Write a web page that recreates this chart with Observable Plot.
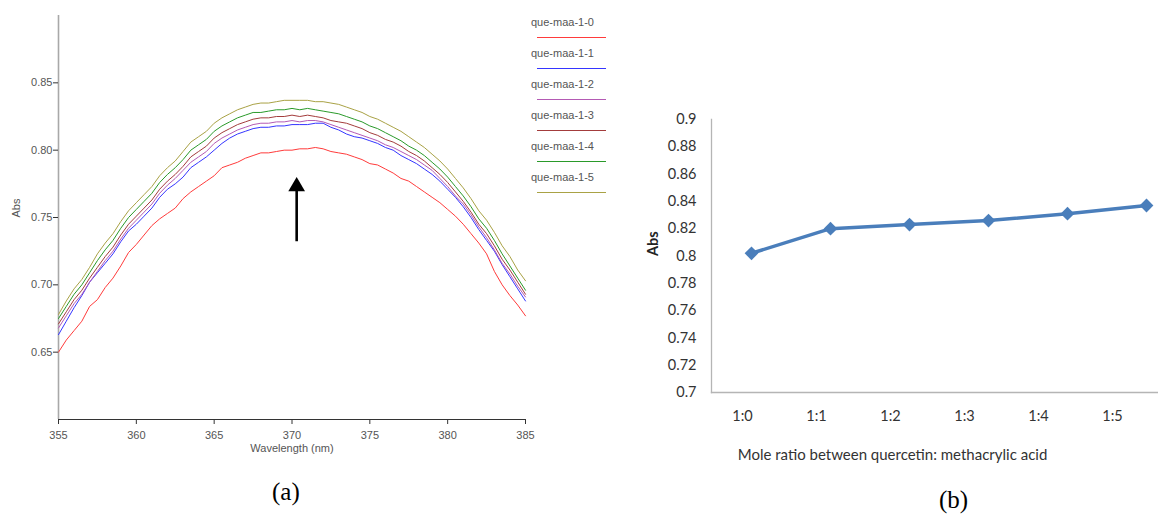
<!DOCTYPE html>
<html>
<head>
<meta charset="utf-8">
<script src="https://cdn.jsdelivr.net/npm/d3@7"></script>
<script src="https://cdn.jsdelivr.net/npm/@observablehq/plot@0.6"></script>
<style>
  html, body { margin: 0; padding: 0; background: white; }
  #wrap { position: relative; width: 1158px; height: 518px; overflow: hidden; background: white; }
  #wrap > svg { position: absolute; top: 0; max-width: none !important; background: transparent !important; overflow: visible; }
  .leg { position: absolute; font-family: "Liberation Sans", Arial, sans-serif; font-size: 11px; color: #555; line-height: 14px; }
  .cap { position: absolute; font-family: "Liberation Serif", "Times New Roman", serif; font-size: 25px; color: #000; line-height: 30px; }
</style>
</head>
<body>
<div id="wrap"></div>
<script>
// ---------- Panel (a): UV spectra ----------
const wavelengths = [355,355.5,356,356.5,357,357.5,358,358.5,359,359.5,360,360.5,361,361.5,362,362.5,363,363.5,364,364.5,365,365.5,366,366.5,367,367.5,368,368.5,369,369.5,370,370.5,371,371.5,372,372.5,373,373.5,374,374.5,375,375.5,376,376.5,377,377.5,378,378.5,379,379.5,380,380.5,381,381.5,382,382.5,383,383.5,384,384.5,385];

const seriesNames = ["que-maa-1-0","que-maa-1-1","que-maa-1-2","que-maa-1-3","que-maa-1-4","que-maa-1-5"];
const seriesColors = ["#ff3b3b","#3535ff","#b45ab4","#a33c3c","#2a9a2a","#a9a245"];

const abs10 = [0.650,0.659,0.666,0.673,0.684,0.689,0.698,0.705,0.714,0.724,0.730,0.737,0.744,0.749,0.753,0.757,0.764,0.769,0.773,0.777,0.781,0.787,0.789,0.791,0.794,0.796,0.798,0.798,0.799,0.800,0.800,0.801,0.801,0.802,0.801,0.799,0.798,0.797,0.795,0.793,0.790,0.789,0.786,0.783,0.779,0.777,0.773,0.769,0.765,0.761,0.756,0.751,0.745,0.738,0.731,0.723,0.710,0.700,0.692,0.685,0.677];
const abs11 = [0.663,0.673,0.683,0.692,0.702,0.709,0.716,0.723,0.732,0.740,0.745,0.751,0.757,0.765,0.771,0.775,0.780,0.787,0.791,0.795,0.800,0.805,0.809,0.812,0.814,0.816,0.817,0.817,0.818,0.818,0.819,0.819,0.819,0.820,0.820,0.817,0.815,0.812,0.810,0.809,0.807,0.805,0.802,0.800,0.796,0.793,0.790,0.786,0.782,0.777,0.771,0.765,0.758,0.750,0.741,0.733,0.725,0.715,0.706,0.697,0.688];
const abs12 = [0.668,0.677,0.686,0.693,0.702,0.710,0.718,0.725,0.734,0.742,0.748,0.754,0.760,0.768,0.774,0.779,0.785,0.791,0.795,0.799,0.805,0.809,0.812,0.815,0.817,0.819,0.820,0.820,0.821,0.821,0.822,0.821,0.822,0.822,0.821,0.819,0.817,0.815,0.813,0.811,0.809,0.807,0.804,0.802,0.799,0.796,0.793,0.789,0.785,0.779,0.773,0.766,0.760,0.752,0.743,0.735,0.726,0.716,0.708,0.699,0.691];
const abs13 = [0.671,0.680,0.689,0.696,0.705,0.713,0.721,0.728,0.737,0.745,0.751,0.757,0.763,0.771,0.777,0.782,0.788,0.795,0.799,0.803,0.809,0.813,0.816,0.819,0.821,0.823,0.824,0.824,0.825,0.825,0.826,0.825,0.826,0.825,0.824,0.822,0.821,0.820,0.818,0.816,0.813,0.811,0.808,0.806,0.803,0.799,0.796,0.792,0.787,0.782,0.776,0.769,0.762,0.754,0.745,0.738,0.729,0.719,0.711,0.702,0.693];
const abs14 = [0.675,0.684,0.693,0.700,0.709,0.718,0.726,0.733,0.742,0.750,0.756,0.762,0.768,0.776,0.782,0.787,0.793,0.800,0.804,0.808,0.814,0.818,0.821,0.824,0.826,0.828,0.828,0.829,0.830,0.830,0.831,0.830,0.831,0.830,0.829,0.828,0.827,0.825,0.823,0.821,0.818,0.816,0.813,0.810,0.807,0.803,0.800,0.796,0.791,0.786,0.780,0.773,0.766,0.758,0.749,0.742,0.733,0.723,0.714,0.705,0.696];
const abs15 = [0.678,0.688,0.697,0.704,0.713,0.723,0.731,0.738,0.747,0.755,0.761,0.767,0.773,0.781,0.787,0.792,0.799,0.806,0.810,0.814,0.820,0.824,0.827,0.830,0.832,0.834,0.835,0.835,0.836,0.837,0.837,0.837,0.837,0.836,0.836,0.835,0.834,0.832,0.830,0.828,0.825,0.823,0.820,0.817,0.814,0.810,0.806,0.802,0.797,0.792,0.786,0.779,0.772,0.764,0.755,0.748,0.739,0.729,0.721,0.711,0.703];

const xTicksA = [355,360,365,370,375,380,385];
const yTicksA = [0.65,0.70,0.75,0.80,0.85];
const arrowX = [370.3];
const arrowShaft = [0.732, 0.770];
const arrowHead = [0.773];

// ---------- Panel (b): absorbance vs mole ratio ----------
const ratios = ["1:0","1:1","1:2","1:3","1:4","1:5"];
const ratioAbs = [0.802,0.820,0.823,0.826,0.831,0.837];
const yTicksB = [0.7,0.72,0.74,0.76,0.78,0.8,0.82,0.84,0.86,0.88,0.9];

const seriesArrays = [abs10, abs11, abs12, abs13, abs14, abs15];
const rowsA = [];
seriesArrays.forEach((arr, s) => arr.forEach((v, i) => rowsA.push({series: seriesNames[s], wl: wavelengths[i], abs: v})));
const rowsB = ratios.map((r, i) => ({ratio: r, abs: ratioAbs[i]}));

const wrap = document.getElementById("wrap");

const plotA = Plot.plot({
  width: 620, height: 470,
  marginLeft: 58, marginRight: 95, marginTop: 15, marginBottom: 51,
  style: {fontFamily: "'Liberation Sans', Arial, sans-serif", fontSize: "11px", color: "#555", background: "transparent"},
  x: {domain: [355, 385]},
  y: {domain: [0.6, 0.9]},
  color: {domain: seriesNames, range: seriesColors},
  marks: [
    Plot.ruleX([355], {stroke: "#a8a8a8", strokeWidth: 1.6}),
    Plot.ruleY([0.6], {stroke: "#333", strokeWidth: 1}),
    Plot.axisX({ticks: xTicksA, tickSize: 5, tickPadding: 7, tickFormat: d => String(d), label: null, stroke: "#333"}),
    Plot.axisY({ticks: yTicksA, tickSize: 5, tickPadding: 1, tickFormat: d => d.toFixed(2), label: null, stroke: "#333"}),
    Plot.line(rowsA, {x: "wl", y: "abs", z: "series", stroke: "series", strokeWidth: 1}),
    Plot.ruleX(arrowX, {x: d => d, y1: arrowShaft[0], y2: arrowShaft[1], stroke: "#000", strokeWidth: 2.6}),
    Plot.dot(arrowX, {x: d => d, y: arrowHead[0], symbol: "triangle", r: 6.2, fill: "#000", stroke: "none"}),
    Plot.text(["Wavelength (nm)"], {text: d => d, frameAnchor: "bottom", dy: 32, fill: "#555"}),
    Plot.text(["Abs"], {text: d => d, frameAnchor: "left", dx: -42, rotate: -90, fill: "#555"})
  ]
});
plotA.style.left = "0px";
wrap.appendChild(plotA);

// legend for (a): text in HTML, swatch lines in a small SVG
const legSvg = d3.create("svg")
  .attr("width", 80).attr("height", 200)
  .style("position", "absolute").style("left", "530px").style("top", "0px");
seriesNames.forEach((name, i) => {
  const t = document.createElement("div");
  t.className = "leg";
  t.textContent = name;
  t.style.left = "531px";
  t.style.top = (15 + i * 31) + "px";
  wrap.appendChild(t);
  legSvg.append("line")
    .attr("x1", 7).attr("x2", 76)
    .attr("y1", 37.5 + i * 31).attr("y2", 37.5 + i * 31)
    .attr("stroke", seriesColors[i]).attr("stroke-width", 1.2);
});
wrap.appendChild(legSvg.node());

const plotB = Plot.plot({
  width: 600, height: 518,
  marginLeft: 111, marginRight: 15, marginTop: 119, marginBottom: 126,
  style: {fontFamily: "Lato, 'Open Sans', sans-serif", fontSize: "14.5px", color: "#333", background: "transparent"},
  x: {type: "point", domain: ratios, padding: 0.5, axis: null},
  y: {domain: [0.7, 0.9]},
  marks: [
    Plot.frame({anchor: "left", stroke: "#b5b5b5", strokeWidth: 1.3}),
    Plot.frame({anchor: "bottom", stroke: "#b5b5b5", strokeWidth: 1.3}),
    Plot.axisY({ticks: yTicksB, tickSize: 0, tickPadding: 15, tickFormat: d => String(+d.toFixed(2)), label: null}),
    Plot.line(rowsB, {x: "ratio", y: "abs", stroke: "#4a7ebb", strokeWidth: 3.5}),
    Plot.dot(rowsB, {x: "ratio", y: "abs", symbol: "diamond2", r: 6.2, fill: "#4a7ebb", stroke: "none"}),
    Plot.text(["Abs"], {text: d => d, frameAnchor: "left", dx: -58, rotate: -90, fontWeight: "bold", fontSize: 14.5, fill: "#222"})
  ]
});
plotB.style.left = "600px";
wrap.appendChild(plotB);

const plotC = Plot.plot({
  width: 558, height: 470,
  marginLeft: 142, marginRight: 46, marginTop: 10, marginBottom: 70,
  style: {fontFamily: "Lato, 'Open Sans', sans-serif", fontSize: "14.5px", color: "#333", background: "transparent"},
  x: {type: "point", domain: ratios, padding: 0},
  marks: [
    Plot.axisX({tickSize: 0, tickPadding: 10, label: null}),
    Plot.text(["Mole ratio between quercetin: methacrylic acid"], {text: d => d, frameAnchor: "bottom", dy: 59, dx: -35, fontSize: 15, fill: "#333"})
  ]
});
plotC.style.left = "600px";
wrap.appendChild(plotC);

// panel captions
[["(a)", 272, 477], ["(b)", 939, 485]].forEach(([s, x, y]) => {
  const d = document.createElement("div");
  d.className = "cap";
  d.textContent = s;
  d.style.left = x + "px";
  d.style.top = y + "px";
  wrap.appendChild(d);
});
</script>
</body>
</html>
